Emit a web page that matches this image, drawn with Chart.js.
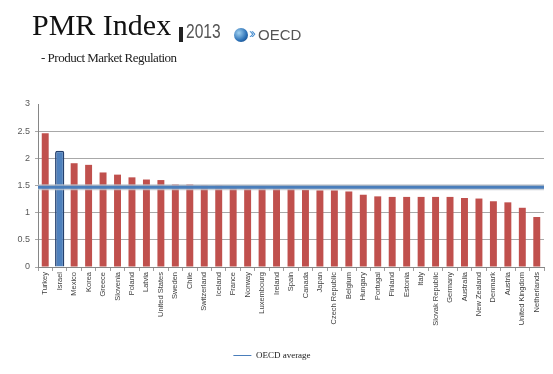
<!DOCTYPE html>
<html>
<head>
    <title>PMR Index 2013</title>
    <script src="https://cdn.jsdelivr.net/npm/chart.js"></script>
    <style>
        body { margin: 0; background: #fff; }
        #wrap { position: relative; width: 553px; height: 374px; }
        #pmrChart { position: absolute; left: 0; top: 0; }
        .title { position: absolute; left: 32px; top: 8px; font-family: "Liberation Serif", serif; font-size: 30px; color: #111; white-space: nowrap; }
        .bar { position: absolute; left: 179px; top: 27px; width: 4px; height: 15px; background: #222; }
        .year { position: absolute; left: 186px; top: 20px; font-family: "Liberation Sans", sans-serif; font-size: 20px; color: #555;
                transform: scaleX(0.78); transform-origin: left top; }
        .globe { position: absolute; left: 234px; top: 28px; width: 14px; height: 14px; border-radius: 50%;
                 background: radial-gradient(circle at 35% 35%, #9fd0f0, #2a6fb5 60%, #123a70); }
        .chev { position: absolute; left: 249px; top: 24px; font-family: "Liberation Sans", sans-serif; font-size: 15px; color: #4a8fd0; letter-spacing: -3px; }
        .oecd { position: absolute; left: 258px; top: 26px; font-family: "Liberation Sans", sans-serif; font-size: 15px; color: #555; }
        .sub { position: absolute; left: 41px; top: 50px; font-family: "Liberation Serif", serif; font-size: 13px; letter-spacing: -0.5px; color: #222; }
    </style>
</head>
<body>
<div id="wrap">
    <canvas id="pmrChart" width="553" height="374"></canvas>
    <div class="title">PMR Index</div>
    <div class="bar"></div>
    <div class="year">2013</div>
    <div class="globe"></div>
    <div class="chev">&#8250;&#8250;</div>
    <div class="oecd">OECD</div>
    <div class="sub">- Product Market Regulation</div>
</div>
<script>
    // Countries, ordered as in the chart
    const countries = [
        'Turkey', 'Israel', 'Mexico', 'Korea', 'Greece', 'Slovenia', 'Poland', 'Latvia',
        'United States', 'Sweden', 'Chile', 'Switzerland', 'Iceland', 'France', 'Norway',
        'Luxembourg', 'Ireland', 'Spain', 'Canada', 'Japan', 'Czech Republic', 'Belgium',
        'Hungary', 'Portugal', 'Finland', 'Estonia', 'Italy', 'Slovak Republic', 'Germany',
        'Australia', 'New Zealand', 'Denmark', 'Austria', 'United Kingdom', 'Netherlands'
    ];

    // PMR index values
    const pmrValues = [
        2.46, 2.14, 1.91, 1.88, 1.74, 1.70, 1.65, 1.61,
        1.60, 1.52, 1.52, 1.50, 1.50, 1.47, 1.47,
        1.46, 1.45, 1.44, 1.42, 1.41, 1.41, 1.39,
        1.33, 1.30, 1.29, 1.29, 1.29, 1.29, 1.29,
        1.27, 1.26, 1.21, 1.19, 1.09, 0.92
    ];

    const highlighted = 'Israel';
    const oecdAverage = 1.47;

    const yTicks = [0, 0.5, 1, 1.5, 2, 2.5, 3];

    const otherData = pmrValues.map((v, i) => countries[i] === highlighted ? null : v);
    const highlightData = pmrValues.map((v, i) => countries[i] === highlighted ? v : null);

    const ctx = document.getElementById('pmrChart').getContext('2d');
    const chart = new Chart(ctx, {
        type: 'bar',
        data: {
            labels: countries,
            datasets: [{
                label: 'OECD average',
                type: 'line',
                xAxisID: 'x2',
                data: [{ x: 0, y: oecdAverage }, { x: 1, y: oecdAverage }],
                borderColor: '#4a7ebb',
                borderWidth: 3,
                pointRadius: 0,
                pointStyle: 'line',
                order: 0
            }, {
                label: 'halo',
                type: 'line',
                xAxisID: 'x2',
                data: [{ x: 0, y: oecdAverage }, { x: 1, y: oecdAverage }],
                borderColor: 'rgba(190,196,204,0.8)',
                borderWidth: 6,
                pointRadius: 0,
                order: 1
            }, {
                label: 'PMR',
                data: otherData,
                backgroundColor: '#c0504d',
                grouped: false,
                barPercentage: 0.48,
                categoryPercentage: 1,
                order: 2
            }, {
                label: 'Israel',
                data: highlightData,
                backgroundColor: '#4f81bd',
                borderColor: '#24406e',
                borderWidth: 1.5,
                borderRadius: 2,
                borderSkipped: 'bottom',
                grouped: false,
                barPercentage: 0.64,
                categoryPercentage: 1,
                order: 2
            }]
        },
        options: {
            responsive: false,
            animation: false,
            layout: { padding: { top: 104, right: 9, bottom: 4, left: 0 } },
            plugins: {
                tooltip: { enabled: false },
                legend: {
                    position: 'bottom',
                    labels: {
                        usePointStyle: true,
                        pointStyleWidth: 18,
                        padding: 8,
                        color: '#222',
                        font: { family: '"Liberation Serif", serif', size: 9 },
                        filter: item => item.text === 'OECD average',
                        generateLabels: c => {
                            const items = Chart.defaults.plugins.legend.labels.generateLabels(c);
                            items.forEach(it => { it.lineWidth = 1; it.strokeStyle = '#4a7ebb'; });
                            return items;
                        }
                    }
                }
            },
            scales: {
                x: {
                    offset: true,
                    grid: { offset: true, drawOnChartArea: false, tickLength: 4, color: '#a0a0a0' },
                    border: { color: '#868686' },
                    ticks: {
                        autoSkip: false,
                        minRotation: 90,
                        maxRotation: 90,
                        padding: 1,
                        color: '#404040',
                        font: { family: '"Liberation Sans", sans-serif', size: 7.5 }
                    },
                    afterFit: s => { s.height = 76; }
                },
                x2: {
                    type: 'linear',
                    min: 0,
                    max: 1,
                    offset: false,
                    grid: { offset: false },
                    display: false
                },
                y: {
                    min: 0,
                    max: 3,
                    afterBuildTicks: s => { s.ticks = yTicks.map(v => ({ value: v })); },
                    grid: {
                        color: c => c.tick && c.tick.value === 3 ? 'rgba(0,0,0,0)' : '#a8a8a8',
                        tickLength: 3
                    },
                    border: { color: '#868686' },
                    ticks: {
                        padding: 5,
                        color: '#595959',
                        font: { family: '"Liberation Sans", sans-serif', size: 9 },
                        callback: v => String(v)
                    },
                    afterFit: s => { s.width = 38; }
                }
            }
        }
    });
</script>
</body>
</html>
